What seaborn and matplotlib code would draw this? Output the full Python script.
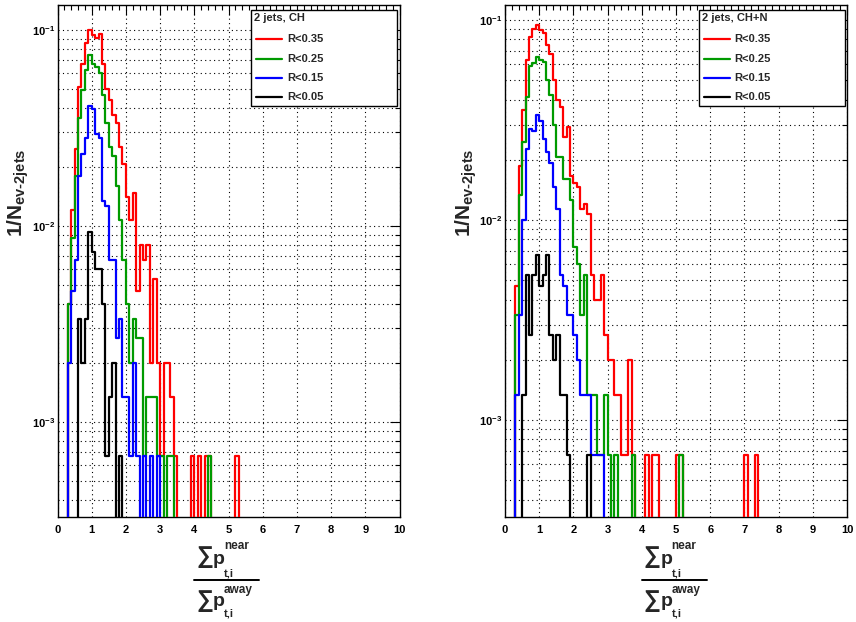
import numpy as np
import pandas as pd
import matplotlib
matplotlib.use("Agg")
import matplotlib.pyplot as plt
import seaborn as sns
from matplotlib.ticker import LogLocator, NullFormatter, FixedLocator, FixedFormatter, MultipleLocator
from matplotlib.lines import Line2D
from matplotlib.patches import Rectangle

sns.set_theme(style="white")
plt.rcParams["font.family"] = ["Liberation Sans", "DejaVu Sans"]
plt.rcParams["font.weight"] = "bold"
plt.rcParams["mathtext.fontset"] = "custom"
plt.rcParams["mathtext.rm"] = "Liberation Sans:bold"
plt.rcParams["mathtext.bf"] = "Liberation Sans:bold"
plt.rcParams["mathtext.it"] = "Liberation Sans:bold"
plt.rcParams["mathtext.default"] = "bf"

# ---------------- data (event counts per 0.1-wide bin, starting at 0) ----------------
N_EV = 1500  # events with 2 jets (normalisation 1/N)
BIN_EDGES = [round(0.1 * i, 2) for i in range(101)]

series_labels = ["R<0.35", "R<0.25", "R<0.15", "R<0.05"]
series_colors = ["#ff0000", "#009a00", "#0000ff", "#000000"]
panel_titles = ["2 jets, CH", "2 jets, CH+N"]
x_tick_labels = ["0", "1", "2", "3", "4", "5", "6", "7", "8", "9", "10"]

# panel 1 : charged particles only
ch_r035 = [0, 0, 0, 6, 18, 37, 77, 101, 128, 150,
           141, 136, 143, 100, 75, 66, 55, 50, 38, 31,
           21, 16, 22, 7, 12, 10, 12, 3, 8, 3,
           1, 3, 3, 2, 1, 0, 0, 0, 0, 1,
           0, 1, 0, 1, 1, 0, 0, 0, 0, 0,
           0, 0, 1]
ch_r025 = [0, 0, 0, 6, 13, 27, 53, 74, 94, 112,
           101, 97, 90, 70, 50, 38, 34, 24, 16, 10,
           6, 3, 5, 4, 4, 1, 2, 2, 2, 1,
           1, 0, 1, 1, 0, 0, 0, 0, 0, 0,
           0, 0, 0, 0, 1]
ch_r015 = [0, 0, 0, 3, 7, 10, 27, 35, 42, 61,
           59, 44, 42, 20, 19, 10, 10, 4, 5, 2,
           2, 1, 3, 1, 0, 1, 0, 1, 0, 1]
ch_r005 = [0, 0, 0, 0, 0, 0, 5, 3, 5, 14,
           11, 9, 9, 6, 1, 2, 3, 0, 1]

# panel 2 : charged + neutral particles
chn_r035 = [0, 0, 0, 7, 28, 53, 95, 124, 135, 142,
            134, 130, 112, 102, 75, 60, 55, 39, 44, 25,
            23, 22, 17, 18, 16, 8, 6, 6, 8, 4,
            3, 3, 2, 2, 1, 1, 3, 1, 0, 0,
            0, 1, 0, 1, 1, 0, 0, 0, 0, 0,
            1, 1, 0, 0, 0, 0, 0, 0, 0, 0,
            0, 0, 0, 0, 0, 0, 0, 0, 0, 0,
            1, 0, 0, 1]
chn_r025 = [0, 0, 0, 5, 20, 37, 62, 88, 91, 98,
            95, 93, 75, 63, 45, 31, 31, 24, 24, 19,
            11, 9, 5, 8, 2, 2, 2, 1, 1, 2,
            1, 0, 1, 0, 0, 0, 0, 1, 0, 0,
            0, 0, 0, 0, 0, 0, 0, 0, 0, 0,
            0, 1]
chn_r015 = [0, 0, 0, 2, 5, 15, 34, 43, 42, 50,
            47, 38, 33, 29, 22, 17, 8, 7, 5, 5,
            4, 3, 2, 2, 2, 1, 1, 1, 1]
chn_r005 = [0, 0, 0, 0, 0, 2, 8, 4, 8, 10,
            7, 8, 10, 4, 3, 4, 2, 2, 1, 0,
            0, 0, 0, 0, 1]

panels = [[ch_r035, ch_r025, ch_r015, ch_r005],
          [chn_r035, chn_r025, chn_r015, chn_r005]]
y_limits = [(3.27e-4, 0.134), (3.27e-4, 0.119)]


def panel_frame(counts_list):
    edges = np.array(BIN_EDGES)
    centers = edges[:-1] + 0.05
    frames = []
    for lab, counts in zip(series_labels, counts_list):
        c = np.zeros(len(centers))
        c[:len(counts)] = counts
        frames.append(pd.DataFrame({"ratio": centers, "w": c / N_EV, "R": lab}))
    return pd.concat(frames, ignore_index=True)


W, H = 856, 622
fig = plt.figure(figsize=(W / 100, H / 100), dpi=100)
fig.patch.set_facecolor("white")


def fx(px):
    return px / W


def fy(py):
    return 1 - py / H


def ftext(x, y, s, **kw):
    kw.setdefault("fontweight", "bold")
    kw.setdefault("family", ["Liberation Sans", "DejaVu Sans"])
    return fig.text(fx(x), fy(y), s, **kw)


def fraction_label(left):
    for word, sig_y, p_y, sup_y, sub_y in [("near", 557, 559, 546, 573),
                                           ("away", 600, 602, 590, 614)]:
        ftext(left, sig_y, "\u2211", ha="left", va="center", fontsize=17)
        ftext(left + 17, p_y, "p", ha="left", va="center", fontsize=14)
        ftext(left + 28, sup_y, word, ha="left", va="center", fontsize=8.5)
        ftext(left + 28, sub_y, "t,i", ha="left", va="center", fontsize=8)
    fig.add_artist(Line2D([fx(left - 2), fx(left + 63)], [fy(580), fy(580)],
                          transform=fig.transFigure, color="black", lw=1.4))


axes_px = [(57.5, 5, 342, 512), (505, 5, 342, 512)]
ylabel_x = [18, 466]
frac_left = [196, 643.5]

for p, (counts_list, ylim) in enumerate(zip(panels, y_limits)):
    x0, y0, w, h = axes_px[p]
    ax = fig.add_axes([fx(x0), fy(y0 + h), w / W, h / H])
    ax.set_facecolor("white")
    df = panel_frame(counts_list)
    for k, (lab, col) in enumerate(zip(series_labels, series_colors)):
        sns.histplot(data=df[df["R"] == lab], x="ratio", weights="w", bins=BIN_EDGES,
                     element="step", fill=False, color=col, linewidth=1.6, ax=ax,
                     zorder=3 + k)
    ax.set_yscale("log")
    ax.set_xlim(0, 10)
    ax.set_ylim(*ylim)
    ax.set_xlabel("")
    ax.set_ylabel("")

    ax.xaxis.set_major_locator(FixedLocator(np.arange(0, 11)))
    ax.xaxis.set_major_formatter(FixedFormatter(x_tick_labels))
    ax.xaxis.set_minor_locator(MultipleLocator(0.2))
    ax.yaxis.set_major_locator(FixedLocator([1e-3, 1e-2, 1e-1]))
    ax.yaxis.set_major_formatter(FixedFormatter([r"$10^{-3}$", r"$10^{-2}$", r"$10^{-1}$"]))
    ax.yaxis.set_minor_locator(LogLocator(base=10, subs=np.arange(2, 10)))
    ax.yaxis.set_minor_formatter(NullFormatter())

    ax.tick_params(which="both", direction="in", top=True, right=True,
                   colors="black", width=0.8, labelsize=8)
    ax.tick_params(which="major", length=7)
    ax.tick_params(which="minor", length=3.5)
    ax.tick_params(axis="x", which="major", pad=6)
    ax.tick_params(axis="y", which="major", pad=2)
    for lbl in ax.get_xticklabels() + ax.get_yticklabels():
        lbl.set_fontweight("bold")

    ax.set_axisbelow(True)
    ax.grid(True, axis="y", which="both", color="black", linestyle=(0, (1, 3)), linewidth=0.8)
    ax.grid(True, axis="x", which="major", color="black", linestyle=(0, (1, 3)), linewidth=0.8)
    for s in ax.spines.values():
        s.set_color("black")
        s.set_linewidth(1.0)
        s.set_visible(True)

    # ROOT-style legend box
    dx = x0 - 57.5
    fig.add_artist(Rectangle((fx(251 + dx), fy(106)), 146 / W, 96 / H,
                             transform=fig.transFigure, facecolor="white",
                             edgecolor="black", linewidth=1.0, zorder=20))
    ftext(254 + dx, 18, panel_titles[p], ha="left", va="center", fontsize=8, zorder=21)
    for k, (lab, col) in enumerate(zip(series_labels, series_colors)):
        yy = [39, 59, 78, 97][k]
        fig.add_artist(Line2D([fx(256 + dx), fx(282 + dx)], [fy(yy), fy(yy)],
                              transform=fig.transFigure, color=col, lw=1.6, zorder=21))
        ftext(287 + dx, yy, lab, ha="left", va="center", fontsize=8, zorder=21)

    fig.text(fx(ylabel_x[p]), fy(193), r"$1/N_{ev\text{-}2jets}$", rotation=90,
             ha="center", va="center", fontsize=15)
    fraction_label(frac_left[p])

fig.savefig("out.png", dpi=100, facecolor="white")
